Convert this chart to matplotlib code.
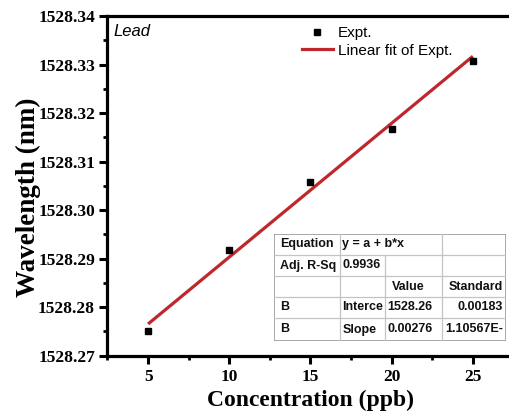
import matplotlib
matplotlib.use("Agg")
import matplotlib.pyplot as plt
import numpy as np
from matplotlib.lines import Line2D
from matplotlib.ticker import MultipleLocator, FormatStrFormatter

# ---- data ----
concentration = [5, 10, 15, 20, 25]
wavelength = [1528.2750, 1528.2917, 1528.3057, 1528.3167, 1528.3307]
fit_intercept = 1528.2627
fit_slope = 0.00276
x_ticks = [5, 10, 15, 20, 25]
y_ticks = [1528.27, 1528.28, 1528.29, 1528.30, 1528.31, 1528.32, 1528.33, 1528.34]
legend_labels = ["Expt.", "Linear fit of Expt."]
panel_label = "Lead"
table_rows = [
    ["Equation", "y = a + b*x", "", ""],
    ["Adj. R-Sq", "0.9936", "", ""],
    ["", "", "Value", "Standard"],
    ["B", "Interce", "1528.26", "0.00183"],
    ["B", "Slope", "0.00276", "1.10567E-"],
]

W, H = 510, 417
fig = plt.figure(figsize=(W / 100, H / 100), dpi=100)
serif = "Liberation Serif"
sans = "Liberation Sans"

# axes in pixel coordinates
left, right, top, bottom = 107.5, 513.5, 16, 355.5
ax = fig.add_axes([left / W, 1 - bottom / H, (right - left) / W, (bottom - top) / H])

red = "#BE272C"
xf = np.array([concentration[0], concentration[-1]], dtype=float)
ax.plot(xf, fit_intercept + fit_slope * xf, color=red, lw=2.3, solid_capstyle="butt", zorder=2)
ax.plot(concentration, wavelength, ls="none", marker="s", ms=5, color="black", zorder=3)

ax.set_xlim(2.5, 27.5)
ax.set_ylim(1528.27, 1528.34)
ax.set_xticks(x_ticks)
ax.set_yticks(y_ticks)
ax.xaxis.set_minor_locator(MultipleLocator(2.5))
ax.yaxis.set_minor_locator(MultipleLocator(0.005))
ax.yaxis.set_major_formatter(FormatStrFormatter("%.2f"))
ax.tick_params(which="major", direction="out", length=6, width=2.2, pad=3)
ax.tick_params(which="minor", direction="out", length=3, width=2.0)
ax.tick_params(axis="x", which="major", pad=4)
for lab in ax.get_xticklabels() + ax.get_yticklabels():
    lab.set_fontfamily(serif)
    lab.set_fontweight("bold")
    lab.set_fontsize(12.5)
for s in ax.spines.values():
    s.set_linewidth(2.3)

ax.set_xlabel("Concentration (ppb)", fontfamily=serif, fontweight="bold", fontsize=17, labelpad=3)
ax.set_ylabel("Wavelength (nm)", fontfamily=serif, fontweight="bold", fontsize=19.5,
              va="center")
ax.yaxis.set_label_coords((28 - left) / (right - left), 1 - (197 - top) / (bottom - top))

# panel label
fig.text(113 / W, 1 - 32 / H, panel_label, fontfamily=sans, fontstyle="italic",
         fontsize=12, va="center", ha="left")

# legend
handles = [
    Line2D([], [], ls="none", marker="s", ms=4.5, color="black"),
    Line2D([], [], color=red, lw=2.3),
]
leg = ax.legend(handles, legend_labels, loc="upper left",
                bbox_to_anchor=(302 / W, 1 - 26 / H), bbox_transform=fig.transFigure,
                frameon=False, borderpad=0, borderaxespad=0, handlelength=2.0,
                handletextpad=0.35, labelspacing=0.25, numpoints=1,
                prop={"family": sans, "size": 11})

# table
tx0, tx1, ty0, ty1 = 274, 506, 234, 341
tax = fig.add_axes([tx0 / W, 1 - ty1 / H, (tx1 - tx0) / W, (ty1 - ty0) / H])
tax.set_xlim(tx0, tx1)
tax.set_ylim(ty1, ty0)
tax.axis("off")
tax.add_patch(plt.Rectangle((tx0, ty0), tx1 - tx0, ty1 - ty0, facecolor="white",
                            edgecolor="#9a9a9a", lw=1.2, zorder=1))
col_edges = [274, 340, 385, 442, 506]
row_edges = [234, 255, 276, 297, 318, 341]
gray = "#c4c4c4"
for ry in row_edges[1:-1]:
    tax.plot([tx0, tx1], [ry, ry], color=gray, lw=0.9, zorder=2)
for ci, cx in enumerate(col_edges[1:-1], start=1):
    for ri in range(5):
        if ri == 0 and ci == 2:
            continue
        tax.plot([cx, cx], [row_edges[ri], row_edges[ri + 1]], color=gray, lw=0.9, zorder=2)

for ri, row in enumerate(table_rows):
    yc = (row_edges[ri] + row_edges[ri + 1]) / 2
    for ci, txt in enumerate(row):
        if not txt:
            continue
        if ci == 3:
            x, ha = col_edges[4] - 3, "right"
        elif ci == 2 and ri == 2:
            x, ha = col_edges[2] + 7, "left"
        elif ci == 0:
            x, ha = col_edges[0] + 6, "left"
        else:
            x, ha = col_edges[ci] + 2.5, "left"
        tax.text(x, yc, txt, ha=ha, va="center", fontfamily=sans, fontweight="bold",
                 fontsize=9, color="#111111", zorder=3)

fig.savefig("out.png", dpi=100)
